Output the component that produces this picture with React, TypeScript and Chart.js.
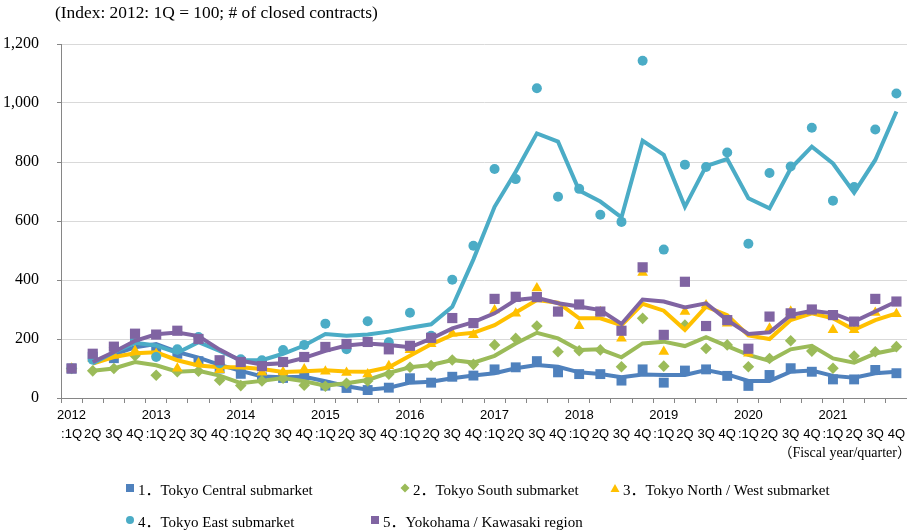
import React, { useEffect, useRef } from "react";
import { Chart, registerables } from "chart.js";

Chart.register(...registerables);

// ---- data ----
const years = ["2012", "2013", "2014", "2015", "2016", "2017", "2018", "2019", "2020", "2021"];
const quarterNames = [":1Q", "2Q", "3Q", "4Q"];

const seriesLabels = [
  "1．Tokyo Central submarket",
  "2．Tokyo South submarket",
  "3．Tokyo North / West submarket",
  "4．Tokyo East submarket",
  "5．Yokohama / Kawasaki region",
];

const centralPoints = [100, 140, 135, 205, 165, 150, 125, 100, 82, 70, 68, 76, 42, 34, 27, 35, 67, 52, 72, 76, 97, 104, 125, 87, 81, 81, 59, 97, 52, 93, 97, 75, 41, 78, 101, 89, 63, 63, 95, 84];
const centralLine = [null, 117, 148, 172, 183, 156, 137, 112, 92, 73, 70, 72, 57, 40, 28, 35, 52, 55, 67, 76, 84, 101, 112, 106, 87, 81, 70, 80, 78, 78, 95, 80, 58, 58, 89, 93, 75, 69, 84, 89];

const southPoints = [100, 92, 100, 143, 77, 89, 91, 60, 42, 58, 67, 43, 40, 50, 58, 81, 104, 110, 129, 114, 180, 202, 244, 157, 160, 163, 106, 270, 108, 247, 168, 180, 106, 134, 194, 159, 101, 142, 157, 174];
const southLine = [null, 92, 100, 122, 111, 89, 92, 76, 50, 58, 68, 57, 42, 50, 61, 85, 104, 112, 129, 120, 143, 185, 221, 202, 163, 165, 138, 185, 191, 176, 206, 176, 146, 126, 165, 177, 134, 120, 151, 165];

const northWestPoints = [100, 134, 144, 160, 150, 100, 118, 95, 108, 87, 88, 98, 90, 86, 81, 109, 163, 183, 219, 214, 298, 287, 372, 290, 244, 292, 202, 425, 157, 293, 315, 253, 151, 236, 293, 295, 231, 231, 289, 285];
const northWestLine = [null, 117, 139, 152, 155, 128, 110, 104, 104, 98, 88, 91, 94, 90, 89, 104, 143, 182, 214, 221, 247, 290, 332, 323, 270, 270, 247, 319, 296, 231, 310, 281, 212, 200, 264, 287, 270, 231, 264, 287];

const eastPoints = [100, 130, 170, 200, 139, 165, 207, 118, 131, 128, 163, 180, 252, 165, 260, 189, 289, 211, 401, 516, 776, 742, 1050, 682, 709, 621, 597, 1143, 503, 791, 783, 832, 523, 763, 785, 916, 669, 715, 910, 1032];
const eastLine = [null, 117, 155, 187, 178, 153, 189, 160, 128, 128, 150, 178, 217, 211, 215, 225, 238, 250, 309, 470, 648, 767, 897, 869, 703, 666, 612, 872, 824, 648, 786, 810, 677, 643, 778, 852, 795, 696, 807, 971];

const yokohamaPoints = [100, 150, 174, 218, 215, 228, 200, 128, 122, 108, 122, 139, 173, 183, 190, 165, 177, 204, 271, 254, 336, 343, 342, 293, 317, 293, 228, 443, 214, 394, 244, 264, 167, 276, 287, 300, 281, 259, 336, 327];
const yokohamaLine = [null, 122, 156, 194, 216, 222, 210, 164, 126, 114, 118, 136, 160, 178, 185, 180, 172, 201, 236, 257, 287, 332, 340, 321, 310, 298, 251, 334, 327, 307, 321, 264, 217, 223, 281, 296, 287, 259, 293, 327];

const yTickMax = 1200;
const yTickStep = 200;

// ---- styles ----
const COLORS = ["#4F81BD", "#9BBB59", "#FFC000", "#4BACC6", "#8064A2"];
const POINT_STYLES = ["rect", "rectRot", "triangle", "circle", "rect"];
const POINT_RADII = [7, 5.8, 6.2, 5, 7.2];

const SERIF = '"Liberation Serif", "Times New Roman", "Noto Sans CJK JP", serif';
const SANS = '"Liberation Sans", Arial, sans-serif';

const labels = years.flatMap((y) => quarterNames.map((q, k) => [k === 0 ? y : "", q]));

const pointSeries = [centralPoints, southPoints, northWestPoints, eastPoints, yokohamaPoints];
const lineSeries = [centralLine, southLine, northWestLine, eastLine, yokohamaLine];

const legendLayout = [
  { x: 130, y: 488 },
  { x: 405, y: 488 },
  { x: 615, y: 488 },
  { x: 130, y: 520 },
  { x: 375, y: 520 },
];

function Marker({ shape, color }: { shape: string; color: string }) {
  return (
    <svg width="10" height="10" viewBox="0 0 10 10" style={{ display: "block" }}>
      {shape === "rect" && <rect x="1" y="1" width="8" height="8" fill={color} />}
      {shape === "rectRot" && <polygon points="5,0.5 9.5,5 5,9.5 0.5,5" fill={color} />}
      {shape === "triangle" && <polygon points="5,1 9.5,9 0.5,9" fill={color} />}
      {shape === "circle" && <circle cx="5" cy="5" r="4" fill={color} />}
    </svg>
  );
}

export default function App() {
  const ref = useRef<HTMLCanvasElement | null>(null);

  useEffect(() => {
    if (!ref.current) return;
    const datasets: any[] = [];
    for (let s = 0; s < 5; s++) {
      const ord = (4 - s) * 2;
      datasets.push({
        type: "line",
        label: seriesLabels[s],
        data: pointSeries[s],
        showLine: false,
        pointStyle: POINT_STYLES[s],
        pointRadius: POINT_RADII[s],
        pointHoverRadius: POINT_RADII[s],
        pointBackgroundColor: COLORS[s],
        pointBorderColor: COLORS[s],
        pointBorderWidth: 0,
        backgroundColor: COLORS[s],
        borderColor: COLORS[s],
        clip: false,
        order: ord,
      });
      datasets.push({
        type: "line",
        label: seriesLabels[s] + " trend",
        data: lineSeries[s],
        borderColor: COLORS[s],
        borderWidth: 4,
        pointRadius: 0,
        tension: 0,
        fill: false,
        spanGaps: false,
        clip: false,
        order: ord + 1,
      });
    }

    const chart = new Chart(ref.current, {
      type: "line",
      data: { labels, datasets },
      options: {
        responsive: false,
        animation: false,
        layout: { autoPadding: false, padding: { top: 44, right: 0, left: 0, bottom: 0 } },
        plugins: {
          legend: { display: false },
          tooltip: { enabled: false },
          title: { display: false },
        },
        scales: {
          x: {
            type: "category",
            offset: true,
            grid: {
              offset: true,
              drawOnChartArea: false,
              drawTicks: true,
              tickLength: 5,
              color: "#868686",
            },
            border: { color: "#868686", width: 1 },
            ticks: {
              autoSkip: false,
              maxRotation: 0,
              minRotation: 0,
              padding: 3,
              color: "#000",
              font: { family: SANS, size: 13, lineHeight: 1.45 },
            },
            afterFit: (scale: any) => {
              scale.height = 133;
              scale.paddingLeft = 0;
              scale.paddingRight = 0;
            },
          },
          y: {
            min: 0,
            max: yTickMax,
            ticks: {
              stepSize: yTickStep,
              padding: 18,
              color: "#000",
              font: { family: SERIF, size: 16 },
              callback: (v: any) => Number(v).toLocaleString("en-US"),
            },
            grid: { color: "#d9d9d9", tickColor: "#868686", tickLength: 4 },
            border: { color: "#868686", width: 1 },
            afterFit: (scale: any) => {
              scale.width = 61;
            },
          },
        },
      } as any,
    });
    return () => chart.destroy();
  }, []);

  return (
    <div style={{ position: "absolute", left: 0, top: 0, width: 907, height: 531, background: "#fff", overflow: "hidden" }}>
      <canvas ref={ref} width={907} height={531} style={{ position: "absolute", left: 0, top: 0, width: 907, height: 531 }} />
      <div
        style={{
          position: "absolute",
          left: 55,
          top: 1,
          fontFamily: SERIF,
          fontSize: 17.4,
          lineHeight: "22px",
          whiteSpace: "nowrap",
          color: "#000",
        }}
      >
        (Index: 2012: 1Q = 100; # of closed contracts)
      </div>
      <div
        style={{
          position: "absolute",
          right: -4,
          top: 443,
          fontFamily: SERIF,
          fontSize: 14,
          lineHeight: "20px",
          whiteSpace: "nowrap",
          color: "#000",
        }}
      >
        （Fiscal year/quarter）
      </div>
      {seriesLabels.map((lab, i) => (
        <div
          key={lab}
          style={{
            position: "absolute",
            left: legendLayout[i].x - 5,
            top: legendLayout[i].y - 10,
            height: 20,
            display: "flex",
            alignItems: "center",
            whiteSpace: "nowrap",
            fontFamily: SERIF,
            fontSize: 15,
            color: "#000",
          }}
        >
          <Marker shape={POINT_STYLES[i]} color={COLORS[i]} />
          <span style={{ marginLeft: 3 }}>{lab}</span>
        </div>
      ))}
    </div>
  );
}
